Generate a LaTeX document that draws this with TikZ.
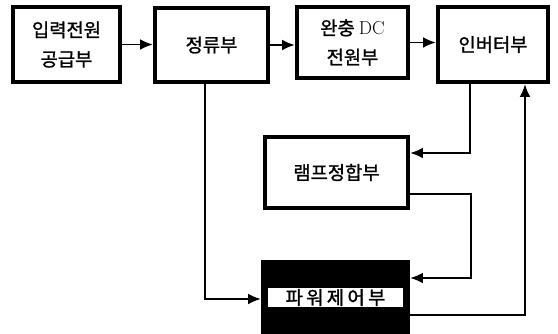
\documentclass[tikz,border=0pt]{standalone}
\usepackage{fontspec}
\newfontfamily\kr{Noto Sans CJK KR}[FakeBold=1.2]
\newfontfamily\krwide{Noto Sans CJK KR}[LetterSpace=18,FakeBold=1.5]
\usetikzlibrary{arrows.meta}

\begin{document}
\begin{tikzpicture}[
    x=0.03cm, y=-0.03cm,
    font=\fontsize{16}{25}\selectfont\kr,
    block/.style={draw, line width=3.6pt, align=center, inner sep=0pt},
    arr/.style={-{Latex[length=3.8mm,width=3.2mm]}, line width=1.6pt},
    link/.style={line width=1.6pt}
]
\useasboundingbox (0,0) rectangle (558,333);

% Upper chain
\node[block, minimum width=3.21cm, minimum height=2.25cm] (supply) at (66.5,44.5) {입력전원\\공급부};
\node[block, minimum width=3.39cm, minimum height=2.22cm] (rect)   at (211.5,45)  {정류부};
\node[block, minimum width=3.33cm, minimum height=2.13cm] (buffer) at (352.5,42.5) {완충 {\rmfamily DC}\\전원부};
\node[block, minimum width=3.30cm, minimum height=2.25cm] (inv)    at (493,44.5)  {인버터부};

% Lower blocks
\node[block, minimum width=4.29cm, minimum height=2.13cm] (lamp) at (336.5,172.5) {램프정합부};
\node[block, fill=black, minimum width=4.35cm, minimum height=2.13cm] (power) at (335.5,297.5)
    {\setlength\fboxsep{1pt}\colorbox{white}{\makebox[3.95cm]{\krwide 파워제어부}}};

% Main flow
\draw[arr] (supply.east) -- (supply.east -| rect.west);
\draw[arr] (rect.east) -- (rect.east -| buffer.west);
\draw[arr] (buffer.east) -- (buffer.east -| inv.west);

% Feedback paths
\draw[arr] (inv.south -| 470,0) |- (lamp.east |- 0,153);
\draw[arr] (lamp.east |- 0,194) -- (471,194) |- (power.east |- 0,278);
\draw[arr] (rect.south -| 205,0) |- (power.west |- 0,299);
\draw[arr] (power.east |- 0,315) -| (inv.south -| 525,0);

\end{tikzpicture}
\end{document}
